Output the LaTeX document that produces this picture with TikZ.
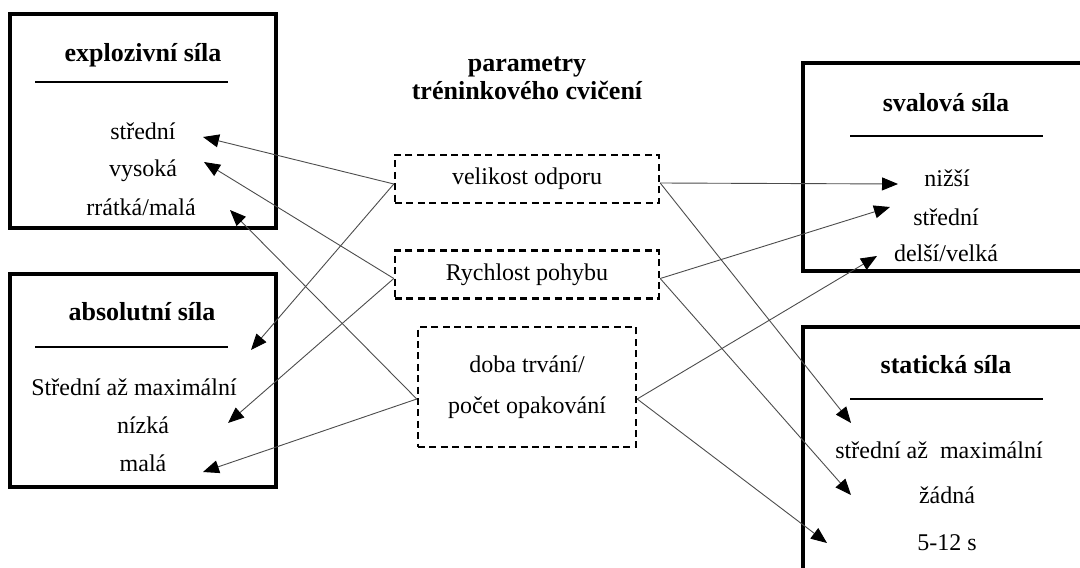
\documentclass[tikz,border=0pt]{standalone}
\usepackage{fontspec}
\setmainfont{Liberation Serif}
\usetikzlibrary{arrows.meta,positioning}

\tikzset{
  silabox/.style={black,line width=1.8pt},
  podtrh/.style={black,line width=1pt},
  param/.style={draw,line width=1.2pt,dash pattern=on 3.5pt off 2.2pt,minimum width=132pt,minimum height=24pt,inner sep=0pt,font=\fontsize{12}{14}\selectfont},
  spoj/.style={black!70,line width=0.45pt,-{Triangle[length=8pt,width=6.5pt,color=black]}},
  nadpis/.style={font=\fontsize{13}{15}\selectfont\bfseries,text height=11pt,text depth=2.2pt,inner sep=0pt},
  polozka/.style={font=\fontsize{12}{14}\selectfont,text height=10pt,text depth=2pt,inner sep=0pt}
}

\begin{document}
\begin{tikzpicture}[x=0.5pt,y=-0.5pt]
\useasboundingbox (0,0) rectangle (1080,567);
\clip (0,0) rectangle (1080,567);

% boxes of the four kinds of strength
\draw[silabox](10,14)rectangle(276,228);
\draw[silabox](10,274)rectangle(276,487);
\draw[silabox](803,63)rectangle(1095,271);
\draw[silabox](803,327)rectangle(1095,590);

\draw[podtrh](35,82)--(228,82);
\draw[podtrh](35,347)--(228,347);
\draw[podtrh](850,136)--(1043,136);
\draw[podtrh](850,399)--(1043,399);

\node[nadpis] (explo) at (143,53){explozivní síla};
\node[polozka] (e1) at (143,132){střední};
\node[polozka] (e2) at (143,168){vysoká};
\node[polozka] (e3) at (141,207){rrátká/malá};

\node[nadpis] (abso) at (142,312){absolutní síla};
\node[polozka] (a1) at (134,387){Střední až maximální};
\node[polozka] (a2) at (143,425){nízká};
\node[polozka] (a3) at (143,463){malá};

\node[nadpis] (sval) at (946,103){svalová síla};
\node[polozka] (s1) at (947,178){nižší};
\node[polozka] (s2) at (946,217){střední};
\node[polozka] (s3) at (946,253){delší/velká};

\node[nadpis] (stat) at (946,365){statická síla};
\node[polozka] (t1) at (939,450){střední až~ maximální};
\node[polozka] (t2) at (947,495){žádná};
\node[polozka] (t3) at (947,542){5-12 s};

% parameters in the middle
\node[nadpis] (par1) at (527,63){parametry};
\node[nadpis] (par2) at (527,91){tréninkového cvičení};

\node[param] (velikost) at (527,179){velikost odporu};
\node[param] (rychlost) at (527,274.5){Rychlost pohybu};
\node[param,minimum width=109pt,minimum height=60pt,align=center,font=\fontsize{12}{20.5}\selectfont] (doba) at (527,387){doba trvání/\\počet opakování};

% arrow tips
\coordinate (tE1) at (203,137);
\coordinate (tE2) at (204,162);
\coordinate (tE3) at (230,210);
\coordinate (tA1) at (251,350);
\coordinate (tA2) at (228,423);
\coordinate (tA3) at (203,472);
\coordinate (tS1) at (898,184);
\coordinate (tS2) at (890,207);
\coordinate (tS3) at (877,256);
\coordinate (tT1) at (851,423);
\coordinate (tT2) at (851,495);
\coordinate (tT3) at (827,543);

\draw[spoj]([yshift=-2.5pt]velikost.west)--(tE1);
\draw[spoj]([yshift=-2.5pt]velikost.west)--(tA1);
\draw[spoj]([yshift=-2pt]rychlost.west)--(tE2);
\draw[spoj]([yshift=-2pt]rychlost.west)--(tA2);
\draw[spoj]([yshift=-6pt]doba.west)--(tE3);
\draw[spoj]([yshift=-6pt]doba.west)--(tA3);

\draw[spoj]([yshift=-2pt]velikost.east)--(tS1);
\draw[spoj]([yshift=-2pt]velikost.east)--(tT1);
\draw[spoj]([yshift=-2pt]rychlost.east)--(tS2);
\draw[spoj]([yshift=-2pt]rychlost.east)--(tT2);
\draw[spoj]([yshift=-6pt]doba.east)--(tS3);
\draw[spoj]([yshift=-6pt]doba.east)--(tT3);

\end{tikzpicture}
\end{document}
